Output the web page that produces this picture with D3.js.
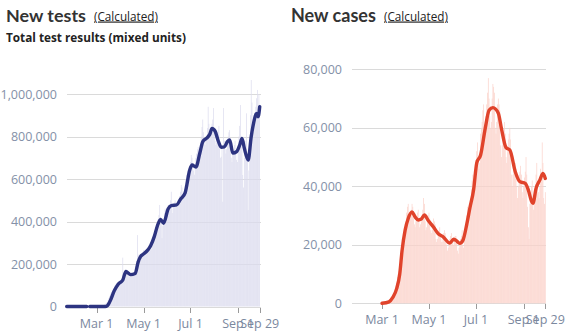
<!DOCTYPE html>
<html><head><meta charset="utf-8">
<script src="https://cdn.jsdelivr.net/npm/d3@7"></script>
<style>
body{margin:0;background:#fff;}
svg{display:block;font-family:"Open Sans","Noto Sans",sans-serif;}
</style>
</head><body>
<svg id="c" width="573" height="336"></svg>
<script>
// ---------- DATA ----------
const startDate = "2020-01-22";
const endDate = "2020-09-29";
const barStartDate = "2020-03-01";
const xTickDates = ["2020-03-01","2020-05-01","2020-07-01","2020-09-01","2020-09-29"];
const xTickLabels = ["Mar 1","May 1","Jul 1","Sep 1","Sep 29"];
const testTicks = [0,200000,400000,600000,800000,1000000];
const caseTicks = [0,20000,40000,60000,80000];

// daily new tests, thousands, Mar 1 - Sep 29
const testsDailyK = [
  1,1,2,2,3,3,3, 4,5,7,9,12,15,18, 22,30,40,50,60,70,65, 75,85,95,100,105,110,100, 95,105,110,
  115,120,130,230, 130,150,160,165,170,165,150, 140,145,150,155,160,150,145, 150,165,190,215,336,240,245, 220,215,235,245,255,
  265,250, 240,245,260,270,280,290,285, 265,270,300,310,330,350,360, 350,360,390,410,430,478,420, 400,322,380,410,440,460,455, 440,
  430,478,470,480,500,540, 460,440,470,490,500,490,480, 470,480,500,520,540,572,560, 520,510,550,570,600,620,640, 610,620,650,
  680,713,700,660, 640,620,660,700,720,740,750, 730,720,760,800,845,880,820, 780,760,790,800,840,940,860, 820,800,830,860,880,934,
  840, 780,760,800,820,830,850,760, 700,705,760,493,934,780,740, 720,740,780,800,820,830,790, 700,680,720,740,760,780,720, 690,680,
  760,800,850,948,800, 760,619,560,700,740,780,909, 680,454,640,760,900,1066,960, 850,820,860,900,940,980,1019, 880,1000,950
];
// daily new cases, thousands, Mar 1 - Sep 29
const casesDailyK = [
  0.01,0.02,0.02,0.03,0.05,0.08,0.1, 0.1,0.2,0.3,0.4,0.5,0.7,0.9, 1.2,1.8,2.5,4,6,7,9, 10,11,13,16,18,20,19, 21,23,26,
  28,31,33,34, 30,29,31,32,34,33,31, 27,26,28,30,31,32,29, 26,27,28,30,32,36,34, 28,25,26,28,30,
  31,29, 25,24,25,27,29,28,27, 22,21,22,23,25,26,24, 21,22,21,24,25,24,22, 20,18,19,20,22,23,24, 21,
  21,20,22,23,23,22, 18,17,19,21,22,23,25, 20,19,23,24,27,30,33, 28,27,33,36,39,42,44, 40,42,45,
  49,52,55,50, 46,48,58,60,62,66,68, 60,58,64,68,72,77,70, 64,60,62,70,75,74,72, 60,58,62,68,70,68,
  66, 54,50,54,56,58,62,58, 50,48,52,56,58,60,56, 44,40,44,46,47,48,46, 40,36,40,44,45,47,44, 38,36,
  40,43,45,50,44, 33,26,22,34,38,40,42, 34,32,38,40,44,48,42, 38,36,40,46,44,55,48, 36,34,38
];

// 7-day average line, read at points (thousands)
const testsAvgDates = ["2020-01-22","2020-02-17","2020-02-18","2020-02-21","2020-03-12","2020-03-15","2020-03-18","2020-03-24","2020-03-29","2020-04-04","2020-04-08","2020-04-10","2020-04-14","2020-04-20","2020-04-24","2020-04-27","2020-04-30","2020-05-05","2020-05-10","2020-05-15","2020-05-19","2020-05-23","2020-05-27","2020-06-02","2020-06-06","2020-06-13","2020-06-18","2020-06-24","2020-06-30","2020-07-03","2020-07-08","2020-07-13","2020-07-17","2020-07-22","2020-07-26","2020-07-29","2020-08-02","2020-08-06","2020-08-10","2020-08-14","2020-08-18","2020-08-21","2020-08-25","2020-08-30","2020-09-03","2020-09-06","2020-09-09","2020-09-14","2020-09-18","2020-09-21","2020-09-25","2020-09-27","2020-09-29"];
const testsAvgK = [0,0,null,0,0,4,22,75,105,125,165,160,150,155,210,235,245,260,285,330,380,410,392,460,475,478,505,535,642,666,656,720,776,792,810,838,825,780,749,751,776,784,722,729,760,791,745,689,800,862,909,893,940];

const casesAvgDates = ["2020-03-01","2020-03-10","2020-03-15","2020-03-20","2020-03-24","2020-03-27","2020-03-31","2020-04-04","2020-04-09","2020-04-13","2020-04-17","2020-04-21","2020-04-25","2020-04-30","2020-05-07","2020-05-13","2020-05-19","2020-05-28","2020-06-02","2020-06-05","2020-06-10","2020-06-14","2020-06-19","2020-06-23","2020-06-28","2020-07-02","2020-07-07","2020-07-13","2020-07-18","2020-07-23","2020-07-30","2020-08-03","2020-08-09","2020-08-14","2020-08-21","2020-08-27","2020-09-03","2020-09-07","2020-09-11","2020-09-13","2020-09-17","2020-09-22","2020-09-26","2020-09-29"];
const casesAvgK = [0,0.5,2,5,10,18,25,29,31.2,29.5,28.5,28.8,30.2,28.3,26,23.8,22.8,20.6,21.9,21.5,20.5,21.5,27,32.5,39,48,50.7,59.8,66,66.9,65,59.8,53.2,52.4,45,41.6,41,38.7,35,34.2,39.3,42.2,44.4,42.7];

// ---------- DRAW ----------
const svg = d3.select("#c");
const parse = d3.utcParse("%Y-%m-%d");
const fmt = d3.format(",");

// scale font-size so the text's natural width matches the target width
function fitText(sel, w, maxSize){
  const node = sel.node();
  const cur = node.getComputedTextLength();
  const fs = parseFloat(sel.attr("font-size"));
  sel.attr("font-size", Math.min(maxSize || 99, fs * w / cur));
}

function drawPanel(cfg){
  const g = svg.append("g");
  const x = d3.scaleUtc().domain([parse(startDate), parse(endDate)]).range(cfg.xr);
  const y = d3.scaleLinear().domain(cfg.yd).range(cfg.yr);
  const dayW = x(parse("2020-01-23")) - x(parse("2020-01-22"));

  // gridlines
  g.selectAll("line.grid").data(cfg.ticks).join("line")
    .attr("x1", cfg.gx[0]).attr("x2", cfg.gx[1])
    .attr("y1", d => Math.round(y(d)) + 0.5).attr("y2", d => Math.round(y(d)) + 0.5)
    .attr("stroke", "#dadada").attr("stroke-width", 1);
  // y labels
  g.selectAll("text.yl").data(cfg.ticks).join("text")
    .attr("x", cfg.labelX).attr("y", d => y(d) + 4.5)
    .attr("text-anchor", "end").attr("font-size", 12.5).attr("fill", "#8491a8")
    .text(d => fmt(d));

  // bars
  const b0 = parse(barStartDate);
  const bars = cfg.daily.map((v, i) => ({d: d3.utcDay.offset(b0, i), v: v * 1000}));
  g.selectAll("rect.bar").data(bars).join("rect")
    .attr("x", d => x(d.d) - dayW / 2)
    .attr("width", dayW * 0.92)
    .attr("y", d => y(d.v))
    .attr("height", d => Math.max(0, y(0) - y(d.v)))
    .attr("fill", cfg.barColor);

  // x ticks
  const y0 = Math.round(y(0));
  g.selectAll("line.xt").data(xTickDates).join("line")
    .attr("x1", d => Math.round(x(parse(d))) + 0.5).attr("x2", d => Math.round(x(parse(d))) + 0.5)
    .attr("y1", y0 + 1).attr("y2", y0 + 6)
    .attr("stroke", "#9a9a9a").attr("stroke-width", 1);
  g.selectAll("text.xl").data(xTickDates).join("text")
    .attr("x", d => x(parse(d))).attr("y", y0 + cfg.xlabOff)
    .attr("text-anchor", "middle").attr("font-size", 12.5).attr("fill", "#7b889e")
    .text((d, i) => xTickLabels[i]);

  // avg line
  const pts = cfg.avgDates.map((d, i) => ({d: parse(d), v: cfg.avg[i] == null ? null : cfg.avg[i] * 1000}));
  const line = d3.line().defined(p => p.v != null).x(p => x(p.d)).y(p => y(p.v)).curve(d3.curveMonotoneX);
  g.append("path").datum(pts).attr("d", line)
    .attr("fill", "none").attr("stroke", cfg.lineColor).attr("stroke-width", 3.4)
    .attr("stroke-linejoin", "round").attr("stroke-linecap", "round");

  // titles
  g.append("text").attr("x", cfg.titleX).attr("y", 22).attr("fill", "#333")
    .attr("font-family", "Lato, 'Open Sans', sans-serif")
    .attr("font-size", 20).attr("font-weight", 700).text(cfg.title)
    .call(fitText, cfg.titleW, 21);
  g.append("text").attr("x", cfg.calcX).attr("y", 20.5).attr("font-size", 12).attr("fill", "#222")
    .attr("text-decoration", "underline").text("(Calculated)")
    .call(fitText, 64, 12.5);
  if (cfg.subtitle) {
    g.append("text").attr("x", cfg.titleX).attr("y", 42).attr("font-size", 12.5)
      .attr("font-weight", 700).attr("fill", "#222").text(cfg.subtitle)
      .call(fitText, 180, 13);
  }
}

drawPanel({
  xr: [66.7, 259.7], yd: [0, 1000000], yr: [306.5, 94], gx: [67, 261], labelX: 57,
  ticks: testTicks, daily: testsDailyK, avgDates: testsAvgDates, avg: testsAvgK,
  barColor: "#dcdcee", lineColor: "#2d3481", xlabOff: 21,
  title: "New tests", titleX: 6, titleW: 80, calcX: 94, subtitle: "Total test results (mixed units)"
});
drawPanel({
  xr: [352, 545.3], yd: [0, 80000], yr: [303.3, 69.3], gx: [352, 546], labelX: 342,
  ticks: caseTicks, daily: casesDailyK, avgDates: casesAvgDates, avg: casesAvgK,
  barColor: "#fbd2ca", lineColor: "#e0432b", xlabOff: 21,
  title: "New cases", titleX: 291, titleW: 85, calcX: 384, subtitle: null
});
</script>
</body></html>
